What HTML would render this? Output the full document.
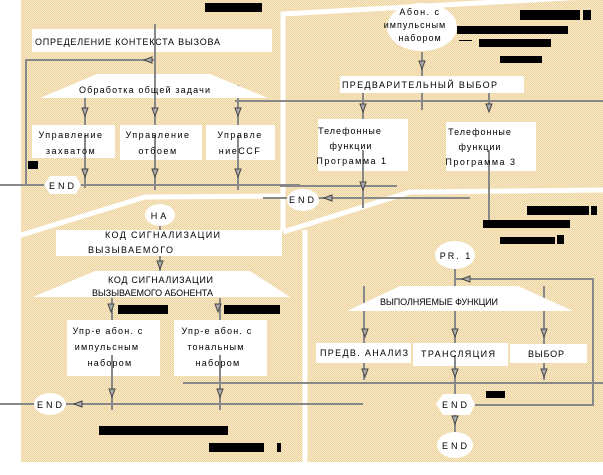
<!DOCTYPE html>
<html><head><meta charset="utf-8"><style>
html,body{margin:0;padding:0;background:#fff;}
svg{display:block}
text{font-family:"Liberation Sans","DejaVu Sans",sans-serif;font-size:9px;fill:#000;}
</style></head><body>
<svg width="603" height="475" viewBox="0 0 603 475" xmlns="http://www.w3.org/2000/svg">
<defs>
<pattern id="dots" width="2" height="2" patternUnits="userSpaceOnUse">
<rect width="2" height="2" fill="#f8e8c4"/><rect width="1" height="1" fill="#ecd4a4"/><rect x="1" y="1" width="1" height="1" fill="#ecd4a4"/>
</pattern>
<g id="ad"><path d="M-3,-4 L3,-4 L0,4 Z" fill="#aaa" stroke="#444" stroke-width="1"/></g>
<g id="al"><path d="M4,-3 L4,3 L-4,0 Z" fill="#aaa" stroke="#444" stroke-width="1"/></g>
</defs>
<rect x="21" y="0" width="582" height="462" fill="url(#dots)"/>
<g stroke="#fff" fill="none" stroke-width="5">
<polyline points="18,236 145,197 285,196"/>
<polyline points="283,230 283,14 603,-4"/>
<polyline points="283,232 410,192 603,190"/>
<line x1="305" y1="230" x2="305" y2="475"/>
</g>
<g stroke="#888" stroke-width="2" fill="none">
<line x1="155" y1="24" x2="155" y2="190"/>
<polyline points="155,60 26,60 26,185 45,185"/>
<line x1="85" y1="83" x2="85" y2="188"/>
<line x1="238" y1="85" x2="238" y2="190"/>
<line x1="235" y1="101" x2="603" y2="101"/>
<line x1="0" y1="185" x2="300" y2="185"/>
<line x1="280" y1="186" x2="397" y2="186"/>
<line x1="263" y1="198" x2="287" y2="198"/>
<line x1="318" y1="198" x2="470" y2="198"/>
<line x1="422" y1="52" x2="422" y2="110"/>
<line x1="363" y1="93" x2="363" y2="208"/>
<line x1="489" y1="93" x2="489" y2="110"/>
<line x1="489" y1="150" x2="489" y2="222"/>
<line x1="160" y1="225" x2="160" y2="275"/>
<line x1="112" y1="298" x2="112" y2="410"/>
<line x1="220" y1="298" x2="220" y2="410"/>
<line x1="183" y1="383" x2="603" y2="383"/>
<line x1="0" y1="404" x2="363" y2="404"/>
<line x1="455" y1="269" x2="455" y2="440"/>
<polyline points="455,279 593,279 593,405 475,405"/>
<line x1="364" y1="286" x2="364" y2="380"/>
<line x1="544" y1="286" x2="544" y2="380"/>
</g>
<g fill="#000">
<rect x="205" y="3" width="57" height="9"/>
<rect x="28" y="161" width="10" height="8"/>
<rect x="520" y="10" width="60" height="10"/><rect x="583" y="10" width="8" height="10"/>
<rect x="457" y="26" width="111" height="8"/>
<rect x="459" y="40" width="13" height="1"/>
<rect x="479" y="39" width="72" height="8"/>
<rect x="500" y="56" width="42" height="7"/>
<rect x="527" y="206" width="62" height="9"/><rect x="591" y="206" width="6" height="9"/>
<rect x="483" y="220" width="87" height="8"/>
<rect x="500" y="237" width="55" height="7"/><rect x="557" y="235" width="7" height="9"/>
<rect x="118" y="305" width="50" height="9"/>
<rect x="224" y="305" width="56" height="9"/>
<rect x="486" y="391" width="19" height="7"/>
<rect x="99" y="426" width="129" height="9"/>
<rect x="209" y="443" width="55" height="9"/><rect x="277" y="443" width="4" height="9"/>
</g>
<g fill="#fff">
<rect x="32" y="29" width="240" height="23"/>
<polygon points="97,74 210,74 268,98 40,98"/>
<rect x="32" y="125" width="83" height="33"/>
<rect x="120" y="125" width="82" height="35"/>
<rect x="206" y="125" width="69" height="35"/>
<polygon points="50,176 76,176 81,185 76,194 50,194 44,185"/>
<ellipse cx="422" cy="27" rx="35" ry="24"/>
<rect x="340" y="76" width="184" height="17"/>
<rect x="318" y="119" width="90" height="52"/>
<rect x="446" y="122" width="90" height="49"/>
<ellipse cx="303" cy="200" rx="16" ry="11"/>
<ellipse cx="160" cy="215" rx="15" ry="11"/>
<rect x="56" y="230" width="226" height="26"/>
<polygon points="95,271 250,271 290,297 33,297"/>
<rect x="67" y="320" width="93" height="56"/>
<rect x="174" y="320" width="93" height="56"/>
<ellipse cx="50" cy="404" rx="16" ry="11"/>
<ellipse cx="455" cy="255" rx="20" ry="14"/>
<polygon points="400,286 518,286 573,311 347,311"/>
<rect x="316" y="343" width="95" height="20"/>
<rect x="413" y="343" width="95" height="23"/>
<rect x="510" y="344" width="77" height="19"/>
<polygon points="443,394 470,394 475,404 470,415 443,415 436,404"/>
<ellipse cx="455" cy="445" rx="18" ry="13"/>
</g>
<g stroke="#888" stroke-width="2">
<line x1="155" y1="24" x2="155" y2="100"/>
<line x1="85" y1="135" x2="85" y2="158"/>
<line x1="155" y1="135" x2="155" y2="160"/>
<line x1="238" y1="135" x2="238" y2="160"/>
<line x1="363" y1="150" x2="363" y2="171"/>
<line x1="489" y1="150" x2="489" y2="171"/>
<line x1="422" y1="93" x2="422" y2="110"/>
<line x1="112" y1="355" x2="112" y2="376"/>
<line x1="220" y1="355" x2="220" y2="376"/>
<line x1="455" y1="355" x2="455" y2="366"/>
</g>
<use href="#al" x="148" y="60"/>
<use href="#ad" x="85" y="112"/><use href="#ad" x="155" y="112"/><use href="#ad" x="238" y="112"/>
<use href="#ad" x="85" y="173"/><use href="#ad" x="155" y="173"/><use href="#ad" x="238" y="173"/>
<use href="#ad" x="422" y="65"/>
<use href="#ad" x="363" y="108"/><use href="#ad" x="489" y="108"/>
<use href="#ad" x="363" y="186"/>
<use href="#al" x="328" y="198"/>
<use href="#ad" x="160" y="265"/>
<use href="#ad" x="111" y="308"/><use href="#ad" x="218" y="308"/>
<use href="#ad" x="112" y="393"/><use href="#ad" x="220" y="393"/>
<use href="#al" x="78" y="404"/>
<use href="#al" x="466" y="279"/>
<use href="#ad" x="365" y="333"/><use href="#ad" x="455" y="333"/><use href="#ad" x="544" y="333"/>
<use href="#ad" x="365" y="373"/><use href="#ad" x="455" y="373"/><use href="#ad" x="544" y="373"/>
<use href="#ad" x="455" y="420"/>
<g lengthAdjust="spacing">
<text x="35" y="45" textLength="185" lengthAdjust="spacing">ОПРЕДЕЛЕНИЕ КОНТЕКСТА ВЫЗОВА</text>
<text x="79" y="93" textLength="131" lengthAdjust="spacing">Обработка общей задачи</text>
<text x="342" y="88" textLength="155" lengthAdjust="spacing">ПРЕДВАРИТЕЛЬНЫЙ ВЫБОР</text>
<text x="105" y="238" textLength="115" lengthAdjust="spacing">КОД СИГНАЛИЗАЦИИ</text>
<text x="88" y="253" textLength="85" lengthAdjust="spacing">ВЫЗЫВАЕМОГО</text>
<text x="108" y="283" textLength="105" lengthAdjust="spacing">КОД СИГНАЛИЗАЦИИ</text>
<text x="92" y="296" textLength="121" lengthAdjust="spacing">ВЫЗЫВАЕМОГО АБОНЕНТА</text>
<text x="380" y="305" textLength="118" lengthAdjust="spacing">ВЫПОЛНЯЕМЫЕ ФУНКЦИИ</text>
<text x="320" y="356" textLength="88" lengthAdjust="spacing">ПРЕДВ. АНАЛИЗ</text>
<text x="421" y="357" textLength="74" lengthAdjust="spacing">ТРАНСЛЯЦИЯ</text>
<text x="528" y="357" textLength="36" lengthAdjust="spacing">ВЫБОР</text>
</g>
<g text-anchor="middle" letter-spacing="1.5">
<text x="71" y="138">Управление</text><text x="71" y="154">захватом</text>
<text x="158" y="138">Управление</text><text x="158" y="154">отбоем</text>
<text x="240" y="138">Управле</text><text x="240" y="154">ниеCCF</text>
<text x="63" y="189" letter-spacing="3">END</text>
<text x="420" y="15">Абон. с</text>
<text x="415" y="28" letter-spacing="1">импульсным</text>
<text x="420" y="41" letter-spacing="1">набором</text>
<text x="350" y="134" letter-spacing="1">Телефонные</text>
<text x="351" y="149" letter-spacing="1">функции</text>
<text x="352" y="164" letter-spacing="1.5">Программа 1</text>
<text x="480" y="135" letter-spacing="1">Телефонные</text>
<text x="480" y="150" letter-spacing="1">функции</text>
<text x="481" y="165" letter-spacing="1.5">Программа 3</text>
<text x="303" y="203" letter-spacing="3">END</text>
<text x="160" y="219" letter-spacing="3">НА</text>
<text x="108" y="334" letter-spacing="1.2">Упр-е абон. с</text>
<text x="107" y="350" letter-spacing="1.2">импульсным</text>
<text x="110" y="366" letter-spacing="1.2">набором</text>
<text x="217" y="334" letter-spacing="1.2">Упр-е абон. с</text>
<text x="216" y="350" letter-spacing="1.2">тональным</text>
<text x="218" y="366" letter-spacing="1.2">набором</text>
<text x="51" y="408" letter-spacing="3">END</text>
<text x="456" y="259" letter-spacing="2">PR. 1</text>
<text x="456" y="408" letter-spacing="3">END</text>
<text x="456" y="449" letter-spacing="3">END</text>
</g>
</svg>
</body></html>
